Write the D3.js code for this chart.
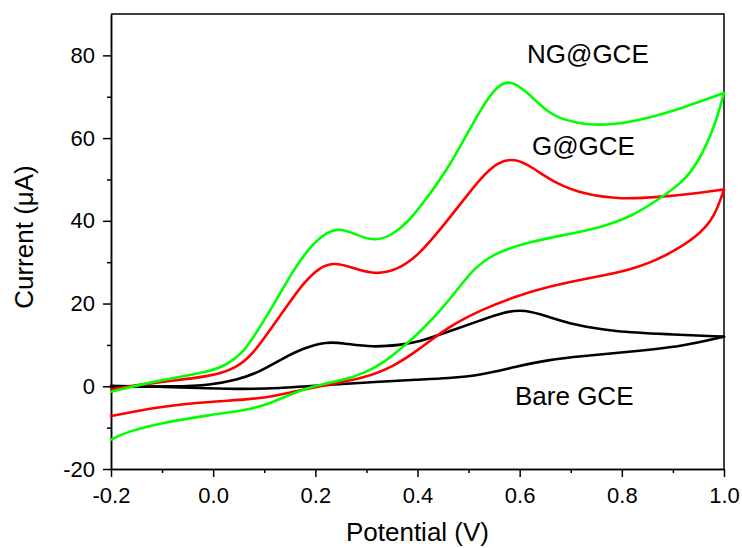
<!DOCTYPE html>
<html>
<head>
<meta charset="utf-8">
<script src="https://cdn.jsdelivr.net/npm/d3@7/dist/d3.min.js"></script>
<style>
  body { margin: 0; background: #fff; }
  svg { display: block; }
  .tick text { font-family: "Liberation Sans", Arial, sans-serif; font-size: 22px; fill: #000; }
  .tick line { stroke: #000; stroke-width: 1.5px; }
  .domain { stroke: #000; stroke-width: 1.5px; }
  .cv { fill: none; stroke-width: 2.6px; stroke-linejoin: round; stroke-linecap: round; }
  .lbl { font-family: "Liberation Sans", Arial, sans-serif; font-size: 26px; fill: #000; }
</style>
</head>
<body>
<div id="chart"></div>
<script>
// potential (V) and current (uA), forward scan then reverse scan
var bareV = [-0.2, -0.071, -0.006, 0.046, 0.092, 0.137, 0.176, 0.222, 0.255, 0.313, 0.366, 0.4, 0.46, 0.525, 0.571, 0.61, 0.656, 0.708, 0.786, 0.884, 1.0,
             0.917, 0.819, 0.721, 0.656, 0.591, 0.525, 0.46, 0.4, 0.32, 0.222, 0.124, 0.059, -0.006, -0.104, -0.2];
var bareI = [-0.1, -0.1, 0.3, 1.5, 3.5, 6.8, 9.2, 10.8, 10.4, 9.4, 10.0, 10.6, 13.2, 16.0, 18.0, 18.6, 16.8, 14.8, 13.2, 12.6, 12.0,
             9.6, 8.4, 7.3, 6.4, 4.7, 2.7, 1.9, 1.6, 1.1, 0.3, -0.5, -0.7, -0.5, -0.1, 0.1];

var gV = [-0.2, -0.104, -0.006, 0.046, 0.079, 0.111, 0.144, 0.176, 0.209, 0.238, 0.268, 0.316, 0.359, 0.4, 0.46, 0.525, 0.558, 0.591, 0.623, 0.669, 0.728, 0.8, 0.871, 0.949, 1.0,
          0.982, 0.949, 0.884, 0.819, 0.734, 0.656, 0.591, 0.525, 0.46, 0.4, 0.352, 0.294, 0.222, 0.157, 0.092, -0.006, -0.104, -0.2];
var gI = [-0.7, 1.1, 2.3, 4.4, 8.0, 13.6, 19.3, 24.9, 28.9, 29.9, 28.9, 26.9, 28.1, 31.3, 40.2, 50.7, 54.3, 55.1, 53.1, 49.1, 46.3, 45.2, 45.7, 46.7, 47.6,
          41.0, 36.2, 31.3, 28.1, 26.1, 24.1, 21.7, 18.5, 14.4, 8.6, 4.7, 1.9, 0.3, -1.3, -3.1, -3.7, -4.9, -7.2];

var ngV = [-0.2, -0.104, -0.006, 0.026, 0.059, 0.092, 0.124, 0.157, 0.19, 0.222, 0.251, 0.281, 0.316, 0.352, 0.385, 0.405, 0.46, 0.525, 0.558, 0.581, 0.61, 0.656, 0.688, 0.728, 0.786, 0.851, 0.917, 1.0,
           0.982, 0.949, 0.917, 0.871, 0.819, 0.754, 0.688, 0.623, 0.558, 0.512, 0.473, 0.434, 0.395, 0.372, 0.333, 0.294, 0.255, 0.203, 0.157, 0.111, 0.072, -0.006, -0.104, -0.169, -0.2];
var ngI = [-1.3, 1.5, 3.5, 5.2, 8.0, 14.4, 20.9, 28.1, 33.8, 37.4, 38.2, 36.6, 35.0, 36.6, 40.2, 43.4, 52.3, 67.6, 72.9, 73.9, 71.7, 66.0, 64.4, 63.2, 63.2, 64.8, 67.2, 70.9,
           62.8, 53.9, 49.1, 45.1, 41.0, 38.2, 36.6, 35.0, 32.6, 28.9, 22.5, 16.8, 12.0, 9.6, 5.6, 3.1, 1.5, 0.3, -1.7, -4.1, -5.7, -6.9, -8.9, -11.0, -12.9];

var names = ["Bare GCE", "G@GCE", "NG@GCE"];
var colors = ["#000000", "#ff0000", "#00ff00"];
var xTicks = [-0.2, 0.0, 0.2, 0.4, 0.6, 0.8, 1.0];
var yTicks = [-20, 0, 20, 40, 60, 80];

var width = 742, height = 548;
var margin = {left: 111, right: 18, top: 14, bottom: 79};

var svg = d3.select("#chart").append("svg")
    .attr("width", width)
    .attr("height", height);

var x = d3.scaleLinear().domain([-0.2, 1.0]).range([margin.left, width - margin.right]);
var y = d3.scaleLinear().domain([-20, 90]).range([height - margin.bottom, margin.top]);

//plain hyphen for negatives, like the original
var fmt = function fmt(f) {
    return function(d) { return f(d).replace("\u2212", "-"); };
};

//frame top and right
svg.append("path")
    .attr("d", "M" + x(-0.2) + "," + y(90) + "H" + x(1.0) + "V" + y(-20))
    .attr("fill", "none")
    .attr("stroke", "#000")
    .attr("stroke-width", 1.5);

//minor ticks
svg.append("g")
    .attr("transform", "translate(0," + y(-20) + ")")
    .call(d3.axisBottom(x).tickValues(d3.range(-0.1, 1.0, 0.2)).tickSize(4).tickSizeOuter(0).tickFormat(""));
svg.append("g")
    .attr("transform", "translate(" + x(-0.2) + ",0)")
    .call(d3.axisLeft(y).tickValues([-10, 10, 30, 50, 70]).tickSize(4).tickSizeOuter(0).tickFormat(""));

//major ticks
svg.append("g")
    .attr("transform", "translate(0," + y(-20) + ")")
    .call(d3.axisBottom(x).tickValues(xTicks).tickSize(8).tickSizeOuter(0).tickPadding(10).tickFormat(fmt(d3.format(".1f"))));
svg.append("g")
    .attr("transform", "translate(" + x(-0.2) + ",0)")
    .call(d3.axisLeft(y).tickValues(yTicks).tickSize(8).tickSizeOuter(0).tickPadding(8).tickFormat(fmt(d3.format("d"))));

//the curves: forward and reverse scans, each drawn left to right
var line = d3.line()
    .x(function(d) { return x(d[0]); })
    .y(function(d) { return y(d[1]); })
    .curve(d3.curveBasis);

var series = [[bareV, bareI], [gV, gI], [ngV, ngI]];
series.forEach(function(s, k) {
    var pts = s[0].map(function(v, i) { return [v, s[1][i]]; });
    var turn = d3.maxIndex(s[0]);
    var fwd = pts.slice(0, turn + 1);
    var rev = pts.slice(turn).reverse();
    [fwd, rev].forEach(function(branch) {
        svg.append("path")
            .datum(branch)
            .attr("class", "cv")
            .attr("stroke", colors[k])
            .attr("d", line);
    });
});

//labels
svg.append("text").attr("class", "lbl").attr("x", 515).attr("y", 405).text(names[0]);
svg.append("text").attr("class", "lbl").attr("x", 532).attr("y", 155).text(names[1]);
svg.append("text").attr("class", "lbl").attr("x", 527).attr("y", 63).text(names[2]);

//axis titles
svg.append("text").attr("class", "lbl")
    .attr("x", (x(-0.2) + x(1.0)) / 2)
    .attr("y", 541)
    .attr("text-anchor", "middle")
    .text("Potential (V)");
svg.append("text").attr("class", "lbl")
    .attr("transform", "translate(33,237)rotate(-90)")
    .attr("text-anchor", "middle")
    .text("Current (\u03bcA)");
</script>
</body>
</html>
